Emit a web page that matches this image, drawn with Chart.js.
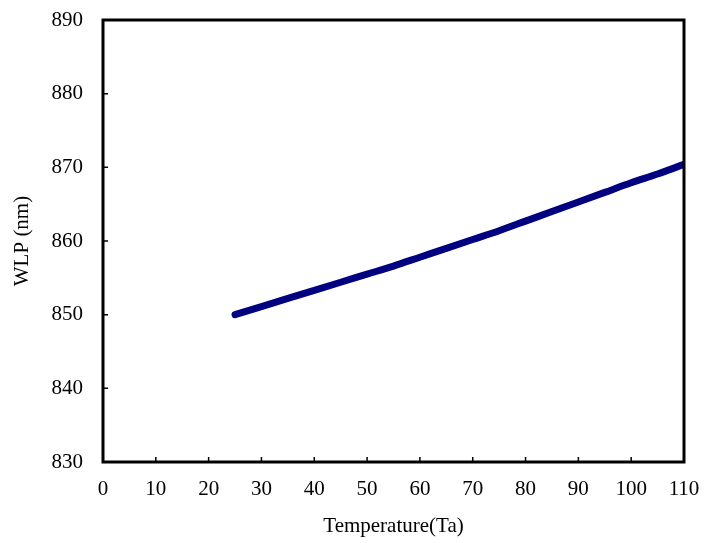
<!DOCTYPE html>
<html>
<head>
<meta charset="utf-8">
<script src="https://cdn.jsdelivr.net/npm/chart.js@4/dist/chart.umd.min.js"></script>
<style>
    html, body { margin: 0; padding: 0; background: #ffffff; }
    #wrap { width: 720px; height: 543px; }
</style>
</head>
<body>
<div id="wrap"><canvas id="wlp_canvas"></canvas></div>
<script>
// temperature (Ta) and peak wavelength WLP (nm)
const temperature = [25, 30, 35, 40, 45, 50, 55, 60, 65, 70, 75, 80, 85, 90, 95, 100, 105, 110];
const wlp = [850.0, 851.1, 852.2, 853.3, 854.4, 855.5, 856.6, 857.8, 859.0, 860.2, 861.4, 862.7, 864.0, 865.3, 866.6, 867.9, 869.1, 870.4];

const x_ticks = [0, 10, 20, 30, 40, 50, 60, 70, 80, 90, 100, 110];
const y_ticks = [830, 840, 850, 860, 870, 880, 890];

const tick_font = {family: "'Liberation Serif', serif", size: 21};
const title_font = {family: "'Liberation Serif', serif", size: 21};

// frame around the plot plus short inward tick marks
const frame_plugin = {
    id: "frame",
    afterDraw(chart){
        let ctx = chart.ctx;
        let area = chart.chartArea;
        let xs = chart.scales.x;
        let ys = chart.scales.y;
        ctx.save();
        ctx.strokeStyle = "#000000";
        ctx.lineWidth = 1.5;
        ctx.beginPath();
        x_ticks.slice(1, -1).forEach(v => {
            let px = xs.getPixelForValue(v);
            ctx.moveTo(px, area.bottom);
            ctx.lineTo(px, area.bottom - 5);
        });
        y_ticks.slice(1, -1).forEach(v => {
            let py = ys.getPixelForValue(v);
            ctx.moveTo(area.left, py);
            ctx.lineTo(area.left + 5, py);
        });
        ctx.stroke();
        ctx.lineWidth = 3;
        ctx.strokeRect(area.left, area.top, area.right - area.left, area.bottom - area.top);
        ctx.restore();
    }
};

function build_points(xs, ys){
    return xs.map((x, i) => ({x: x, y: ys[i]}));
}

new Chart(document.getElementById("wlp_canvas"), {
    type: "line",
    data: {
        datasets: [{
            label: "WLP",
            data: build_points(temperature, wlp),
            borderColor: "#000080",
            borderWidth: 7,
            borderCapStyle: "round",
            borderJoinStyle: "round",
            pointRadius: 0,
            cubicInterpolationMode: "monotone",
            fill: false
        }]
    },
    options: {
        responsive: true,
        maintainAspectRatio: false,
        animation: false,
        layout: {padding: {left: 0, right: 36, top: 20, bottom: 0}},
        plugins: {
            legend: {display: false},
            tooltip: {enabled: false}
        },
        scales: {
            x: {
                type: "linear",
                min: 0,
                max: 110,
                afterBuildTicks: scale => { scale.ticks = x_ticks.map(v => ({value: v})); },
                afterFit: scale => { scale.height = 81; },
                grid: {display: false, drawTicks: false},
                border: {display: false},
                ticks: {color: "#000000", font: tick_font, padding: 15, maxRotation: 0},
                title: {
                    display: true,
                    text: "Temperature(Ta)",
                    color: "#000000",
                    font: title_font,
                    padding: {top: 0, bottom: 4}
                }
            },
            y: {
                type: "linear",
                min: 830,
                max: 890,
                afterBuildTicks: scale => { scale.ticks = y_ticks.map(v => ({value: v})); },
                afterFit: scale => {
                    scale.width = 103;
                    scale.paddingTop = 0;
                    scale.paddingBottom = 0;
                },
                grid: {display: false, drawTicks: false},
                border: {display: false},
                ticks: {color: "#000000", font: tick_font, padding: 20},
                title: {
                    display: true,
                    text: "WLP (nm)",
                    color: "#000000",
                    font: title_font,
                    padding: {top: 10, bottom: 0}
                }
            }
        }
    },
    plugins: [frame_plugin]
});
</script>
</body>
</html>
